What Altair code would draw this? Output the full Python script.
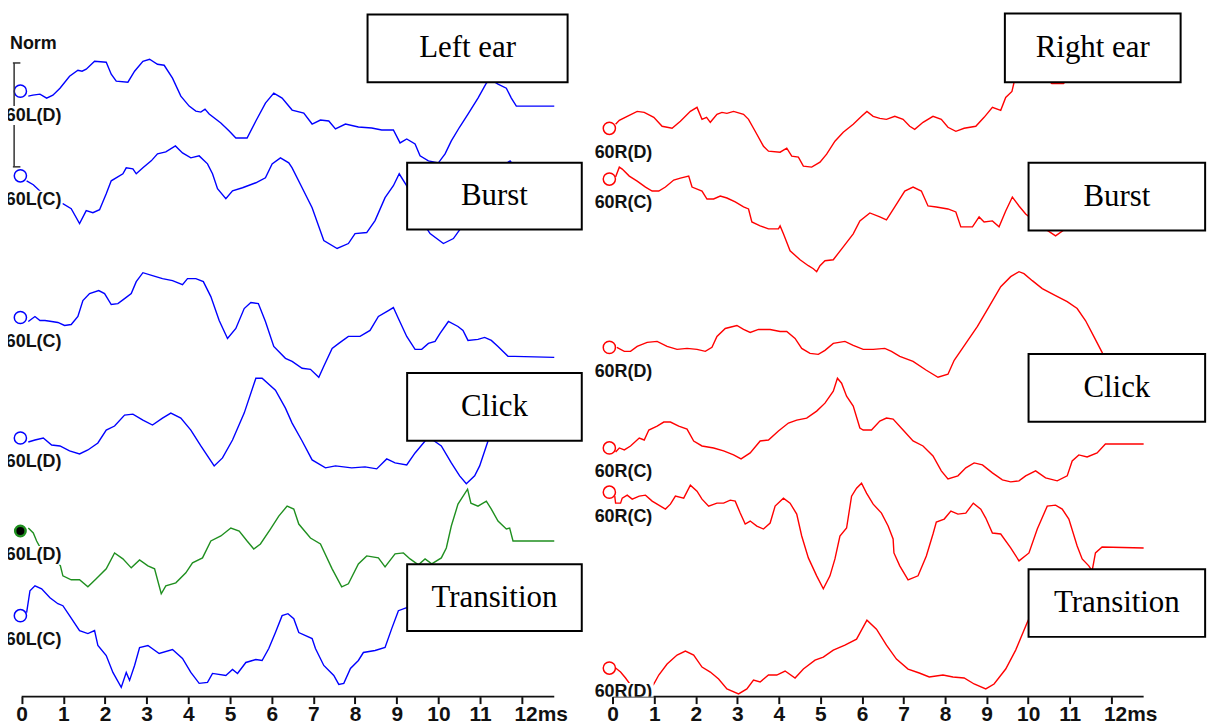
import altair as alt
import pandas as pd

# ---------------- data: (time in ms, amplitude relative to the trace's own baseline) ----------------
left_1 = [(0.16,-5),(0.27,-4),(0.44,-3),(0.60,-7),(0.75,-4),(0.92,3),(1.15,15),(1.35,21),(1.45,20),(1.55,22),
          (1.75,30),(2.03,29),(2.15,17),(2.27,10),(2.55,9),(2.71,20),(2.91,30),(3.07,32),(3.26,27),(3.42,26),
          (3.62,13),(3.82,-5),(4.02,-15),(4.18,-20),(4.30,-21),(4.40,-18),(4.50,-23),(4.78,-32),(4.98,-40),(5.14,-47),
          (5.41,-47),(5.62,-30),(5.85,-12),(6.05,-2),(6.25,-7),(6.49,-19),(6.77,-22),(6.97,-33),(7.17,-29),(7.37,-30),
          (7.53,-38),(7.77,-33),(8.08,-36),(8.40,-37),(8.64,-39),(8.92,-39),(9.08,-52),(9.24,-48),(9.44,-53),(9.56,-65),
          (9.76,-70),(10.00,-72),(10.16,-63),(10.31,-50),(10.51,-36),(10.71,-23),(10.95,-7),(11.15,8),(11.24,12),(11.43,7),
          (11.63,3),(11.75,-7),(11.87,-15),(12.78,-15)]
left_2 = [(0.12,-5),(0.28,-9),(0.56,-20),(0.96,-28),(0.99,-28),(1.19,-33),(1.39,-48),(1.55,-35),(1.71,-37),(1.87,-34),
          (2.03,-18),(2.15,-5),(2.43,2),(2.51,8),(2.67,7),(2.75,2),(2.91,8),(3.11,15),(3.26,22),(3.46,24),
          (3.69,30),(3.86,23),(4.06,18),(4.26,20),(4.46,12),(4.58,2),(4.70,-13),(4.90,-23),(5.06,-15),(5.30,-12),
          (5.62,-7),(5.85,-2),(6.01,12),(6.21,18),(6.41,13),(6.49,8),(6.73,-12),(6.97,-32),(7.25,-65),(7.57,-73),
          (7.84,-68),(8.00,-58),(8.28,-57),(8.48,-45),(8.72,-22),(8.92,-10),(9.06,2),(9.24,-10),(9.52,-40),(9.80,-58),
          (10.12,-68),(10.36,-63),(10.53,-53),(10.83,-30),(11.19,-3),(11.55,10),(11.72,15),(11.91,5),(12.27,-15),(12.78,-15)]
left_3 = [(0.16,-4),(0.32,1),(0.44,-3),(0.56,-3),(0.72,-4),(0.87,-5),(1.03,-8),(1.19,-7),(1.35,1),(1.47,17),
          (1.63,24),(1.85,27),(1.99,24),(2.15,13),(2.31,14),(2.47,19),(2.63,24),(2.75,36),(2.91,45),(3.14,42),
          (3.38,39),(3.62,37),(3.86,33),(3.98,39),(4.18,39),(4.36,36),(4.54,21),(4.74,-3),(4.94,-21),(5.14,-11),
          (5.34,9),(5.50,15),(5.68,14),(5.85,-4),(6.05,-29),(6.33,-41),(6.49,-44),(6.73,-51),(6.93,-52),(7.13,-60),
          (7.25,-49),(7.45,-31),(7.61,-26),(7.84,-19),(8.12,-19),(8.36,-13),(8.56,1),(8.80,7),(8.92,10),(9.04,-1),
          (9.24,-19),(9.44,-32),(9.60,-32),(9.76,-26),(9.92,-24),(10.04,-16),(10.24,-4),(10.47,-9),(10.59,-13),(10.71,-23),
          (10.95,-22),(11.11,-20),(11.27,-23),(11.43,-29),(11.67,-39),(11.83,-39),(12.78,-40)]
left_4 = [(0.16,-4),(0.32,-2),(0.52,0),(0.72,-7),(0.92,-8),(1.15,-13),(1.39,-16),(1.59,-12),(1.83,-5),(2.03,8),
          (2.23,12),(2.47,23),(2.67,24),(2.91,18),(3.14,13),(3.38,20),(3.58,25),(3.82,20),(4.06,8),(4.30,-8),
          (4.62,-28),(4.82,-20),(5.06,-2),(5.34,25),(5.62,60),(5.77,60),(6.09,48),(6.33,30),(6.49,15),(6.73,-3),
          (6.97,-22),(7.29,-30),(7.53,-28),(7.92,-30),(8.24,-29),(8.52,-31),(8.76,-21),(8.96,-25),(9.24,-27),(9.44,-15),
          (9.68,-3),(9.80,0),(10.07,-8),(10.31,-25),(10.51,-38),(10.67,-46),(10.87,-38),(10.99,-28),(11.19,-3),(11.43,18),
          (11.72,33),(12.03,28),(12.78,28)]
left_5 = [(0.16,3),(0.28,-2),(0.36,-10),(0.49,-20),(0.82,-28),(0.93,-35),(0.99,-45),(1.19,-49),(1.39,-49),(1.59,-56),
          (1.79,-48),(2.03,-38),(2.23,-22),(2.43,-28),(2.63,-37),(2.83,-29),(3.03,-35),(3.19,-38),(3.35,-63),(3.46,-55),
          (3.70,-52),(3.94,-42),(4.10,-32),(4.34,-27),(4.54,-10),(4.78,-5),(5.02,3),(5.22,0),(5.41,-10),(5.57,-18),
          (5.73,-13),(5.97,2),(6.17,15),(6.37,25),(6.53,22),(6.65,7),(6.93,-7),(7.17,-13),(7.45,-38),(7.68,-56),
          (7.84,-53),(8.08,-33),(8.28,-25),(8.56,-27),(8.72,-36),(8.96,-23),(9.16,-22),(9.32,-28),(9.52,-34),(9.68,-28),
          (9.84,-33),(10.07,-27),(10.19,-17),(10.31,5),(10.47,27),(10.70,42),(10.78,28),(10.95,25),(11.15,30),(11.27,22),
          (11.43,10),(11.63,2),(11.71,3),(11.79,-10),(12.78,-10)]
left_6 = [(0.12,3),(0.20,25),(0.32,30),(0.48,27),(0.68,18),(0.87,12),(0.99,10),(1.15,0),(1.39,-15),(1.59,-18),
          (1.75,-15),(1.83,-30),(2.03,-40),(2.19,-57),(2.39,-72),(2.51,-57),(2.59,-65),(2.71,-50),(2.83,-32),(3.03,-30),
          (3.30,-38),(3.62,-34),(3.86,-43),(4.06,-57),(4.26,-68),(4.46,-67),(4.58,-58),(4.90,-60),(5.06,-54),(5.18,-58),
          (5.38,-47),(5.62,-44),(5.77,-45),(5.93,-33),(6.09,-17),(6.25,0),(6.39,2),(6.53,-3),(6.65,-17),(6.97,-23),
          (7.05,-33),(7.25,-50),(7.49,-60),(7.61,-69),(7.73,-68),(7.89,-53),(8.08,-45),(8.20,-37),(8.48,-35),(8.72,-32),
          (8.88,-13),(9.04,5),(9.24,8),(9.76,27),(10.24,37),(10.71,32),(11.43,17),(11.91,12),(12.78,12)]

right_1 = [(0.07,4),(0.16,8),(0.35,12),(0.59,17),(0.76,16),(0.99,11),(1.19,2),(1.43,0),(1.63,7),(1.87,17),
           (2.03,21),(2.15,9),(2.26,11),(2.35,6),(2.51,14),(2.63,16),(2.75,15),(2.91,17),(3.15,14),(3.27,9),
           (3.43,-3),(3.63,-18),(3.75,-23),(4.03,-24),(4.19,-20),(4.31,-28),(4.47,-29),(4.59,-38),(4.79,-39),(4.99,-34),
           (5.15,-26),(5.35,-13),(5.55,-4),(5.79,4),(5.99,12),(6.12,17),(6.27,12),(6.43,10),(6.59,9),(6.79,12),
           (6.99,9),(7.15,2),(7.27,-1),(7.47,6),(7.71,12),(7.91,9),(8.07,1),(8.26,-3),(8.46,0),(8.74,2),
           (8.94,11),(9.14,21),(9.34,18),(9.46,31),(9.61,37),(9.66,46),(9.94,62),(10.30,55),(10.57,45),(10.85,45),
           (11.09,55),(11.38,65),(12.77,65)]
right_2 = [(0.07,2),(0.16,12),(0.23,10),(0.40,3),(0.59,-2),(0.79,-8),(0.95,-12),(1.11,-12),(1.27,-8),(1.47,-1),
           (1.63,1),(1.83,3),(1.91,-8),(2.15,-12),(2.27,-20),(2.43,-20),(2.59,-17),(2.75,-19),(2.95,-23),(3.15,-28),
           (3.27,-30),(3.35,-43),(3.55,-47),(3.75,-50),(3.99,-50),(4.03,-47),(4.11,-55),(4.27,-72),(4.51,-81),(4.71,-87),
           (4.83,-90),(4.91,-93),(4.99,-87),(5.11,-82),(5.31,-81),(5.55,-68),(5.79,-55),(5.95,-42),(6.19,-34),(6.43,-38),
           (6.59,-41),(6.79,-28),(7.03,-12),(7.23,-8),(7.43,-12),(7.59,-27),(7.79,-28),(8.07,-30),(8.26,-33),(8.38,-48),
           (8.66,-48),(8.82,-38),(8.94,-43),(9.14,-42),(9.30,-48),(9.46,-32),(9.62,-18),(9.78,-27),(9.94,-35),(10.30,-47),
           (10.66,-57),(10.90,-50),(11.26,-27),(11.62,-17),(11.91,-17),(12.77,-17)]
right_3 = [(0.10,0),(0.28,-4),(0.43,-4),(0.59,1),(0.83,5),(1.07,6),(1.31,1),(1.55,-2),(1.79,-1),(2.03,-2),
           (2.23,-4),(2.39,0),(2.51,11),(2.71,19),(2.99,22),(3.15,18),(3.31,15),(3.51,18),(3.79,18),(4.03,16),
           (4.19,16),(4.39,9),(4.55,-1),(4.75,-6),(4.95,-7),(5.11,-3),(5.31,4),(5.59,6),(5.79,2),(6.03,-2),
           (6.27,-2),(6.55,-1),(6.71,-4),(6.91,-9),(7.23,-14),(7.55,-23),(7.83,-30),(8.07,-27),(8.22,-13),(8.50,4),
           (8.78,21),(9.06,41),(9.34,61),(9.58,71),(9.78,76),(9.90,74),(10.10,67),(10.34,59),(10.66,52),(10.94,46),
           (11.18,39),(11.38,27),(11.58,11),(11.78,-5),(11.98,-25),(12.34,-33),(12.77,-33)]
right_4 = [(0.07,-4),(0.16,0),(0.28,-2),(0.43,2),(0.64,10),(0.76,8),(0.87,18),(1.07,22),(1.23,26),(1.39,26),
           (1.59,22),(1.79,19),(1.95,7),(2.15,2),(2.43,0),(2.67,-3),(2.91,-7),(3.09,-11),(3.31,-5),(3.55,7),
           (3.75,8),(3.99,17),(4.23,25),(4.43,28),(4.67,30),(4.91,37),(5.11,45),(5.31,57),(5.41,70),(5.51,65),
           (5.63,52),(5.79,42),(5.95,20),(6.03,18),(6.23,18),(6.43,27),(6.59,30),(6.75,29),(6.99,18),(7.23,7),
           (7.47,2),(7.71,-8),(7.91,-23),(8.07,-31),(8.31,-28),(8.50,-20),(8.70,-15),(8.90,-17),(9.14,-25),(9.38,-32),
           (9.58,-34),(9.78,-33),(9.94,-28),(10.18,-23),(10.42,-30),(10.70,-33),(10.94,-28),(11.06,-13),(11.22,-7),(11.42,-9),
           (11.66,-5),(11.86,4),(12.78,4)]
right_5 = [(0.05,-4),(0.07,-11),(0.19,-11),(0.23,-6),(0.35,-3),(0.47,-7),(0.64,-4),(0.79,-3),(0.95,-9),(1.07,-12),
           (1.27,-17),(1.39,-12),(1.51,-4),(1.71,-6),(1.87,7),(2.03,1),(2.15,-7),(2.31,-14),(2.51,-11),(2.67,-11),
           (2.83,-8),(2.95,-9),(3.07,-21),(3.19,-32),(3.31,-29),(3.47,-34),(3.63,-37),(3.79,-31),(3.91,-14),(4.11,-6),
           (4.27,-11),(4.43,-22),(4.55,-44),(4.71,-66),(4.91,-84),(5.07,-97),(5.23,-84),(5.35,-67),(5.47,-44),(5.63,-36),
           (5.75,-4),(5.87,4),(5.99,9),(6.11,-1),(6.27,-12),(6.47,-21),(6.63,-34),(6.75,-47),(6.77,-61),(6.91,-74),
           (7.11,-88),(7.35,-84),(7.55,-64),(7.71,-42),(7.79,-30),(7.98,-27),(8.14,-19),(8.31,-22),(8.50,-21),(8.68,-11),
           (8.86,-17),(8.98,-26),(9.14,-41),(9.34,-42),(9.58,-56),(9.78,-69),(10.02,-61),(10.22,-37),(10.46,-14),(10.66,-13),
           (10.82,-17),(10.98,-27),(11.18,-54),(11.30,-67),(11.46,-74),(11.54,-79),(11.62,-61),(11.78,-55),(12.78,-56)]
right_6 = [(0.07,0),(0.19,-4),(0.31,-10),(0.50,-21),(0.83,-23),(0.99,-16),(1.11,-7),(1.31,4),(1.55,13),(1.75,17),
           (1.95,13),(2.15,1),(2.35,-4),(2.55,-11),(2.75,-21),(3.03,-26),(3.23,-21),(3.39,-12),(3.55,-14),(3.75,-7),
           (3.95,-7),(4.15,-3),(4.39,-10),(4.59,-1),(4.87,8),(5.07,11),(5.31,18),(5.59,23),(5.87,29),(6.12,48),
           (6.35,39),(6.59,23),(6.83,9),(7.11,-1),(7.38,-5),(7.62,-9),(7.95,-7),(8.19,-9),(8.46,-10),(8.70,-16),
           (8.98,-21),(9.18,-16),(9.46,-1),(9.70,18),(9.98,46),(10.30,74),(10.66,89),(11.14,91),(12.77,91)]

left_names = ["60L(D)", "60L(C)", "60L(C)", "60L(D)", "60L(D)", "60L(C)"]
right_names = ["60R(D)", "60R(C)", "60R(D)", "60R(C)", "60R(C)", "60R(D)"]
left_baselines = [608, 523, 380.7, 259.7, 166.3, 81.3]
right_baselines = [570.7, 519.7, 350.7, 249.7, 205.3, 28.7]

left_box_labels = ["Left ear", "Burst", "Click", "Transition"]
left_box_start = [8.30, 9.25, 9.25, 9.25]
left_box_end = [13.10, 13.44, 13.44, 13.44]
left_box_top = [685, 536, 325, 133]
left_box_bottom = [617, 469, 257, 66]

right_box_labels = ["Right ear", "Burst", "Click", "Transition"]
right_box_start = [9.44, 10.01, 10.01, 10.01]
right_box_end = [13.67, 14.26, 14.26, 14.26]
right_box_top = [686, 536, 344, 128]
right_box_bottom = [617, 468, 276, 60]

tick_values = list(range(13))
axis_end_ms = 12.78

# ---------------- styles ----------------
BLUE, RED, GREEN = "#0000ff", "#ff0000", "#1f8f1f"
INK = "#111111"
LABEL_FONT = "Liberation Sans, Arial, sans-serif"
BOX_FONT = "Liberation Serif, Times New Roman, serif"
PLOT_H = 690
LABEL_T = 0.955
LABEL_DROP = 24.5


def make_axis():
    return alt.Axis(values=tick_values, domain=False, grid=False, title=None,
                    tickSize=7, tickWidth=2, tickColor=INK,
                    labelFont=LABEL_FONT, labelFontSize=21, labelFontWeight="bold",
                    labelColor=INK, labelPadding=0, labelFlush=False, labelOverlap=False,
                    labelExpr="datum.value == 12 ? '12ms' : datum.label",
                    labelOffset={"condition": {"test": "datum.value == 12", "value": 19}, "value": 0})


def panel(traces, names, baselines, colors, marker_kind, marker_t, box_labels, box_s, box_e,
          box_top, box_bot, domain, width, with_norm=False):
    xs = alt.Scale(domain=domain, nice=False, zero=False)
    ys = alt.Scale(domain=[0, PLOT_H], nice=False, zero=False)

    def X(f):
        return alt.X(f, type="quantitative", scale=xs, axis=make_axis())

    def Y(f):
        return alt.Y(f, type="quantitative", scale=ys, axis=None)

    rows = []
    for k, tr in enumerate(traces):
        for i, (t, a) in enumerate(tr):
            rows.append({"trace": k, "i": i, "t": t, "y": baselines[k] + a, "color": colors[k]})
    df = pd.DataFrame(rows)

    lines = alt.Chart(df).mark_line(strokeWidth=1.4).encode(
        x=X("t"), y=Y("y"), color=alt.Color("color:N", scale=None),
        detail="trace:N", order="i:Q")

    mk = pd.DataFrame({"t": [marker_t] * len(names), "y": baselines, "color": colors, "kind": marker_kind})
    open_m = alt.Chart(mk).transform_filter("datum.kind == 'open'").mark_point(
        shape="circle", size=150, strokeWidth=1.5, filled=False, opacity=1).encode(
        x=X("t"), y=Y("y"), color=alt.Color("color:N", scale=None))
    fill_m = alt.Chart(mk).transform_filter("datum.kind == 'filled'").mark_point(
        shape="circle", size=110, filled=True, color="black", stroke=GREEN, strokeWidth=2.5, opacity=1).encode(
        x=X("t"), y=Y("y"))

    ax = pd.DataFrame({"t0": [0], "t1": [axis_end_ms], "y": [0]})
    axis_rule = alt.Chart(ax).mark_rule(strokeWidth=2, color=INK).encode(x=X("t0"), x2="t1", y=Y("y"))

    lab = pd.DataFrame({"name": names, "base": baselines})
    lab_base = alt.Chart(lab).transform_calculate(
        ly=f"datum.base - {LABEL_DROP}", ly0=f"datum.base - {LABEL_DROP} - 9.5",
        ly1=f"datum.base - {LABEL_DROP} + 9.5", lx=f"{LABEL_T}", lx0="-0.8", lx1=f"{LABEL_T + 0.03}")
    lab_bg = lab_base.mark_rect(fill="white", clip=True).encode(x=X("lx0:Q"), x2="lx1:Q", y=Y("ly0:Q"), y2="ly1:Q")
    lab_txt = lab_base.mark_text(align="right", baseline="middle", font=LABEL_FONT, fontSize=18,
                                 fontWeight="bold", color=INK, clip=True).encode(
        x=X("lx:Q"), y=Y("ly:Q"), text="name:N")

    bx = pd.DataFrame({"label": box_labels, "s": box_s, "e": box_e, "top": box_top, "bot": box_bot})
    box_base = alt.Chart(bx)
    boxes = box_base.mark_rect(fill="white", stroke="black", strokeWidth=2).encode(
        x=X("s"), x2="e", y=Y("bot"), y2="top")
    box_txt = box_base.transform_calculate(
        cx="(datum.s + datum.e) / 2", cy="(datum.top + datum.bot) / 2").mark_text(
        align="center", baseline="middle", font=BOX_FONT, fontSize=31, color="black").encode(
        x=X("cx:Q"), y=Y("cy:Q"), text="label:N")

    layers = [lines, open_m, fill_m, axis_rule]
    if with_norm:
        bar = pd.DataFrame({"t": [-0.18], "lo": [532.0], "hi": [636.3], "c0": [-0.21], "c1": [-0.03]})
        bar_c = alt.Chart(bar)
        layers.append(bar_c.mark_rule(strokeWidth=1.5, color="#333333").encode(x=X("t"), y=Y("lo"), y2="hi"))
        layers.append(bar_c.mark_rule(strokeWidth=1.5, color="#333333").encode(x=X("c0"), x2="c1", y=Y("lo")))
        layers.append(bar_c.mark_rule(strokeWidth=1.5, color="#333333").encode(x=X("c0"), x2="c1", y=Y("hi")))
        norm = pd.DataFrame({"t": [-0.28], "y": [655.5], "txt": ["Norm"]})
        layers.append(alt.Chart(norm).mark_text(align="left", baseline="middle", font=LABEL_FONT, fontSize=18,
                                                fontWeight="bold", color=INK).encode(
            x=X("t"), y=Y("y"), text="txt:N"))
    layers += [lab_bg, lab_txt, boxes, box_txt]
    return alt.layer(*layers).properties(width=width, height=PLOT_H)


left = panel([left_1, left_2, left_3, left_4, left_5, left_6], left_names, left_baselines,
             [BLUE, BLUE, BLUE, BLUE, GREEN, BLUE],
             ["open", "open", "open", "open", "filled", "open"], -0.03,
             left_box_labels, left_box_start, left_box_end, left_box_top, left_box_bottom,
             [-0.327, 13.46], 577, with_norm=True)
right = panel([right_1, right_2, right_3, right_4, right_5, right_6], right_names, right_baselines,
              [RED] * 6, ["open"] * 6, -0.08,
              right_box_labels, right_box_start, right_box_end, right_box_top, right_box_bottom,
              [-0.460, 14.281], 615)

chart = alt.hconcat(left, right, spacing=11, bounds="flush").properties(padding=0).configure_view(stroke=None)
chart.save("out.html", embed_options={"renderer": "svg", "actions": False})
